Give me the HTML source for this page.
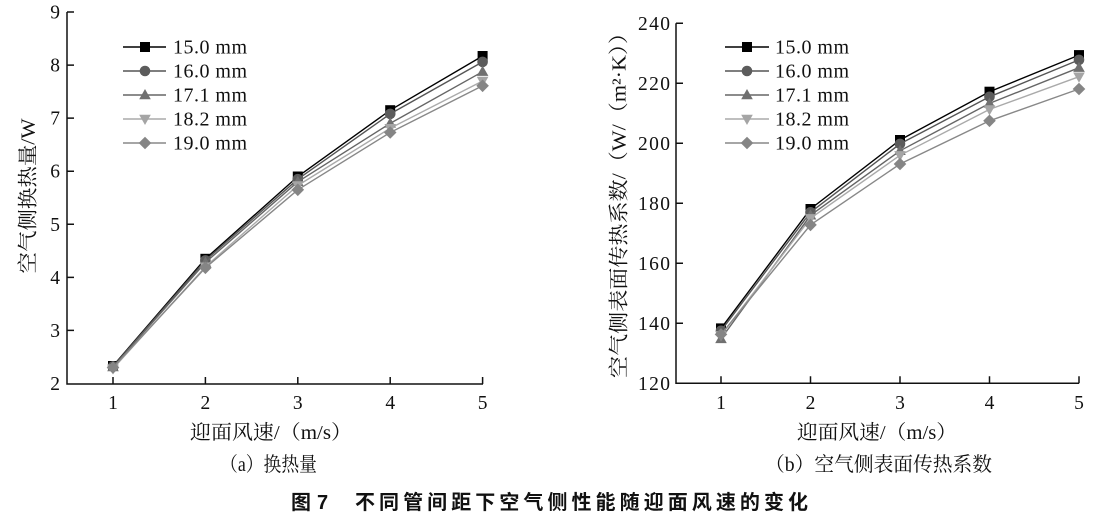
<!DOCTYPE html>
<html><head><meta charset="utf-8"><style>
html,body{margin:0;padding:0;background:#fff;}
svg{display:block;}
.t{font-family:"Liberation Serif","Noto Serif CJK SC",serif;font-size:19.5px;fill:#111;}
.lg{font-family:"Liberation Serif","Noto Serif CJK SC",serif;font-size:20px;fill:#111;}
.cj{font-family:"Liberation Serif","Noto Serif CJK SC",serif;font-size:20px;fill:#111;}
.ti{font-family:"Liberation Sans","Noto Sans CJK SC",sans-serif;font-size:20px;font-weight:bold;fill:#111;}
.ax{stroke:#111;stroke-width:1.5;fill:none;}
.l{fill:none;stroke-width:1.4;}
</style></head><body>
<svg width="1095" height="522" viewBox="0 0 1095 522" xmlns="http://www.w3.org/2000/svg">
<defs>
<marker id="m1" viewBox="-7 -7 14 14" markerWidth="14" markerHeight="14" refX="0" refY="0" markerUnits="userSpaceOnUse" overflow="visible"><rect x="-5" y="-5" width="10" height="10" fill="#000"/></marker>
<marker id="m2" viewBox="-7 -7 14 14" markerWidth="14" markerHeight="14" refX="0" refY="0" markerUnits="userSpaceOnUse" overflow="visible"><circle r="5.3" fill="#5c5c5c"/></marker>
<marker id="m3" viewBox="-7 -7 14 14" markerWidth="14" markerHeight="14" refX="0" refY="0" markerUnits="userSpaceOnUse" overflow="visible"><polygon points="0,-6 -5.8,4.2 5.8,4.2" fill="#707070"/></marker>
<marker id="m4" viewBox="-7 -7 14 14" markerWidth="14" markerHeight="14" refX="0" refY="0" markerUnits="userSpaceOnUse" overflow="visible"><polygon points="0,6 -5.8,-4.2 5.8,-4.2" fill="#a5a5a5"/></marker>
<marker id="m5" viewBox="-7 -7 14 14" markerWidth="14" markerHeight="14" refX="0" refY="0" markerUnits="userSpaceOnUse" overflow="visible"><polygon points="0,-6.3 6.3,0 0,6.3 -6.3,0" fill="#858585"/></marker>
</defs>

<!-- ===== Left chart ===== -->
<path class="ax" d="M67,12 V384 H483"/>
<path class="ax" d="M67,12 H74 M67,65.1 H74 M67,118.1 H74 M67,171.2 H74 M67,224.3 H74 M67,277.4 H74 M67,330.4 H74
 M113,384 V377 M205.4,384 V377 M297.8,384 V377 M390.2,384 V377 M482.6,384 V377"/>
<g class="t" text-anchor="end">
<text x="60" y="18.5">9</text><text x="60" y="71.6">8</text><text x="60" y="124.6">7</text><text x="60" y="177.7">6</text>
<text x="60" y="230.8">5</text><text x="60" y="283.9">4</text><text x="60" y="336.9">3</text><text x="60" y="390">2</text>
</g>
<g class="t" text-anchor="middle">
<text x="113" y="409">1</text><text x="205.4" y="409">2</text><text x="297.8" y="409">3</text><text x="390.2" y="409">4</text><text x="482.6" y="409">5</text>
</g>
<polyline class="l" stroke="#000" marker-start="url(#m1)" marker-mid="url(#m1)" marker-end="url(#m1)" points="113,366.0 205.4,258.8 297.8,176.5 390.2,110.2 482.6,56.0"/>
<polyline class="l" stroke="#555" marker-start="url(#m2)" marker-mid="url(#m2)" marker-end="url(#m2)" points="113,366.5 205.4,260.4 297.8,179.2 390.2,113.9 482.6,61.9"/>
<polyline class="l" stroke="#666" marker-start="url(#m3)" marker-mid="url(#m3)" marker-end="url(#m3)" points="113,367.0 205.4,262.5 297.8,181.8 390.2,123.4 482.6,71.7"/>
<polyline class="l" stroke="#aaa" marker-start="url(#m4)" marker-mid="url(#m4)" marker-end="url(#m4)" points="113,368.6 205.4,266.7 297.8,185.5 390.2,128.2 482.6,81.0"/>
<polyline class="l" stroke="#888" marker-start="url(#m5)" marker-mid="url(#m5)" marker-end="url(#m5)" points="113,367.6 205.4,267.8 297.8,189.8 390.2,132.5 482.6,85.8"/>
<!-- legend left -->
<polyline class="l" stroke="#000" marker-mid="url(#m1)" points="123,47 145,47 166,47"/>
<polyline class="l" stroke="#555" marker-mid="url(#m2)" points="123,71 145,71 166,71"/>
<polyline class="l" stroke="#666" marker-mid="url(#m3)" points="123,95 145,95 166,95"/>
<polyline class="l" stroke="#aaa" marker-mid="url(#m4)" points="123,119 145,119 166,119"/>
<polyline class="l" stroke="#888" marker-mid="url(#m5)" points="123,143 145,143 166,143"/>
<g class="lg">
<text x="173" y="53.5" textLength="74" lengthAdjust="spacing">15.0 mm</text>
<text x="173" y="77.5" textLength="74" lengthAdjust="spacing">16.0 mm</text>
<text x="173" y="101.5" textLength="74" lengthAdjust="spacing">17.1 mm</text>
<text x="173" y="125.5" textLength="74" lengthAdjust="spacing">18.2 mm</text>
<text x="173" y="149.5" textLength="74" lengthAdjust="spacing">19.0 mm</text>
</g>
<text class="cj" transform="translate(34.5,196) rotate(-90)" text-anchor="middle" textLength="155" lengthAdjust="spacingAndGlyphs">空气侧换热量/W</text>
<text class="cj" x="190" y="439" textLength="162" lengthAdjust="spacingAndGlyphs">迎面风速/（m/s）</text>
<text class="cj" x="220" y="471" textLength="97" lengthAdjust="spacingAndGlyphs">（a）换热量</text>

<!-- ===== Right chart ===== -->
<path class="ax" d="M676,23.3 V383.3 H1079"/>
<path class="ax" d="M676,23.3 H683 M676,83.3 H683 M676,143.3 H683 M676,203.3 H683 M676,263.3 H683 M676,323.3 H683
 M721,383.3 V376.3 M810.5,383.3 V376.3 M900,383.3 V376.3 M989.5,383.3 V376.3 M1079,383.3 V376.3"/>
<g class="t" text-anchor="end">
<text x="670" y="29.8" textLength="32">240</text><text x="670" y="89.8" textLength="32">220</text><text x="670" y="149.8" textLength="32">200</text>
<text x="670" y="209.8" textLength="32">180</text><text x="670" y="269.8" textLength="32">160</text><text x="670" y="329.8" textLength="32">140</text>
<text x="670" y="389.8" textLength="32">120</text>
</g>
<g class="t" text-anchor="middle">
<text x="721" y="409">1</text><text x="810.5" y="409">2</text><text x="900" y="409">3</text><text x="989.5" y="409">4</text><text x="1079" y="409">5</text>
</g>
<polyline class="l" stroke="#000" marker-start="url(#m1)" marker-mid="url(#m1)" marker-end="url(#m1)" points="721,328.4 810.5,209.0 900,140.0 989.5,91.7 1079,55.1"/>
<polyline class="l" stroke="#555" marker-start="url(#m2)" marker-mid="url(#m2)" marker-end="url(#m2)" points="721,330.8 810.5,212.3 900,143.9 989.5,96.8 1079,59.9"/>
<polyline class="l" stroke="#666" marker-start="url(#m3)" marker-mid="url(#m3)" marker-end="url(#m3)" points="721,338.9 810.5,215.3 900,150.8 989.5,103.4 1079,67.7"/>
<polyline class="l" stroke="#aaa" marker-start="url(#m4)" marker-mid="url(#m4)" marker-end="url(#m4)" points="721,335.3 810.5,218.3 900,155.3 989.5,109.4 1079,76.7"/>
<polyline class="l" stroke="#888" marker-start="url(#m5)" marker-mid="url(#m5)" marker-end="url(#m5)" points="721,334.4 810.5,224.9 900,164.0 989.5,120.8 1079,89.0"/>
<!-- legend right -->
<polyline class="l" stroke="#000" marker-mid="url(#m1)" points="725,47 747,47 769,47"/>
<polyline class="l" stroke="#555" marker-mid="url(#m2)" points="725,71 747,71 769,71"/>
<polyline class="l" stroke="#666" marker-mid="url(#m3)" points="725,95 747,95 769,95"/>
<polyline class="l" stroke="#aaa" marker-mid="url(#m4)" points="725,119 747,119 769,119"/>
<polyline class="l" stroke="#888" marker-mid="url(#m5)" points="725,143 747,143 769,143"/>
<g class="lg">
<text x="775" y="53.5" textLength="74" lengthAdjust="spacing">15.0 mm</text>
<text x="775" y="77.5" textLength="74" lengthAdjust="spacing">16.0 mm</text>
<text x="775" y="101.5" textLength="74" lengthAdjust="spacing">17.1 mm</text>
<text x="775" y="125.5" textLength="74" lengthAdjust="spacing">18.2 mm</text>
<text x="775" y="149.5" textLength="74" lengthAdjust="spacing">19.0 mm</text>
</g>
<text class="cj" transform="translate(625.5,200) rotate(-90)" text-anchor="middle" textLength="356" lengthAdjust="spacingAndGlyphs">空气侧表面传热系数/（W/（m²·K））</text>
<text class="cj" x="797" y="439" textLength="160" lengthAdjust="spacingAndGlyphs">迎面风速/（m/s）</text>
<text class="cj" x="765" y="471" textLength="227" lengthAdjust="spacingAndGlyphs">（b）空气侧表面传热系数</text>

<!-- ===== Figure title ===== -->
<text class="ti" x="291" y="509">图</text>
<text class="ti" x="317" y="509">7</text>
<text class="ti" x="355" y="509" textLength="453" lengthAdjust="spacing">不同管间距下空气侧性能随迎面风速的变化</text>
</svg>
</body></html>
